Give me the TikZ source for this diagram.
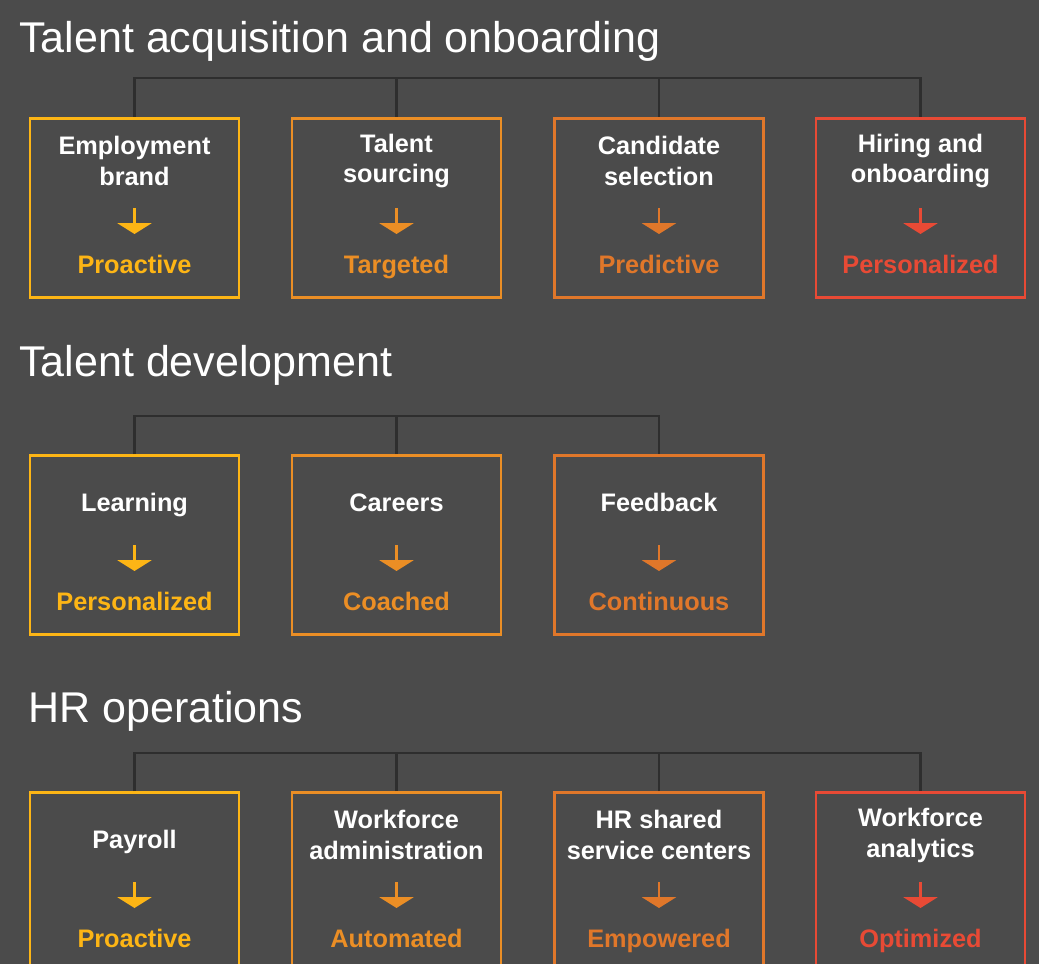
\documentclass[tikz,border=0pt]{standalone}
\usepackage{fontspec}
\setmainfont{Liberation Sans}
\usepackage{tikz}
\usetikzlibrary{calc}
\usetikzlibrary{arrows.meta}
\definecolor{bgray}{HTML}{4B4B4B}
\definecolor{lgray}{HTML}{2E2E2E}
\definecolor{pyellow}{HTML}{FDB515}
\definecolor{porange}{HTML}{EB8E25}
\definecolor{ptang}{HTML}{E0772A}
\definecolor{pred}{HTML}{E84A35}
\tikzstyle{every node}=[text=white,inner sep=0pt]
\tikzstyle{title}=[anchor=base west,font=\fontsize{30.6}{36}\selectfont]
\tikzstyle{card}=[draw,line width=2pt,minimum width=5.225cm,minimum height=4.475cm,anchor=north]
\tikzstyle{word}=[align=center,font=\bfseries\fontsize{18}{22}\selectfont]
\tikzstyle{oneline}=[font=\bfseries\fontsize{18}{22}\selectfont,text height=13pt,text depth=0pt]
\tikzstyle{single}=[oneline,yshift=-3pt]
\tikzstyle{tree}=[draw=lgray,line width=2pt]
\tikzstyle{downarr}=[draw=#1,line width=1.6pt,-{Triangle[width=0.85cm,length=0.27cm]}]
% card: [label style] name, x, top, colour, label, value
\newcommand{\hrcard}[7][word]{%
  \node [card,draw=#5] (#2) at (#3,#4) {};
  \node [#1] (#2l) at ($(#2.north)+(0,44)$) {#6};
  \coordinate (#2s) at ($(#2.north)+(0,91)$);
  \coordinate (#2e) at ($(#2.north)+(0,117)$);
  \draw [downarr=#5] (#2s) -- (#2e);
  \node [oneline,text=#5] (#2v) at ($(#2.north)+(0,147)$) {#7};
}

\begin{document}
\begin{tikzpicture}[line cap=butt,line join=miter,x=0.025cm,y=-0.025cm]
            \clip (0,0) rectangle (1039,964);
            \fill [bgray] (0,0) rectangle (1039,964);
            % acquisition
            \node [title] (t1) at (19,53) {Talent acquisition and onboarding};
            \hrcard{a1}{134.5}{117}{pyellow}{Employment\\brand}{Proactive}
            \hrcard{a2}{396.5}{117}{porange}{Talent\\sourcing}{Targeted}
            \hrcard{a3}{659}{117}{ptang}{Candidate\\selection}{Predictive}
            \hrcard{a4}{920.5}{117}{pred}{Hiring and\\onboarding}{Personalized}
            \coordinate (a0) at (0,78);
            \draw [tree] (a1.north) |- (a0 -| a4.north) -- (a4.north);
            \draw [tree] (a2.north) -- (a2.north |- a0);
            \draw [tree] (a3.north) -- (a3.north |- a0);
            % development
            \node [title] (t2) at (19,377) {Talent development};
            \hrcard[single]{d1}{134.5}{454}{pyellow}{Learning}{Personalized}
            \hrcard[single]{d2}{396.5}{454}{porange}{Careers}{Coached}
            \hrcard[single]{d3}{659}{454}{ptang}{Feedback}{Continuous}
            \coordinate (d0) at (0,416);
            \draw [tree] (d1.north) |- (d0 -| d3.north) -- (d3.north);
            \draw [tree] (d2.north) -- (d2.north |- d0);
            % operations
            \node [title] (t3) at (28,722) {HR operations};
            \hrcard[single]{o1}{134.5}{791}{pyellow}{Payroll}{Proactive}
            \hrcard{o2}{396.5}{791}{porange}{Workforce\\administration}{Automated}
            \hrcard{o3}{659}{791}{ptang}{HR shared\\service centers}{Empowered}
            \hrcard{o4}{920.5}{791}{pred}{Workforce\\analytics}{Optimized}
            \coordinate (o0) at (0,753);
            \draw [tree] (o1.north) |- (o0 -| o4.north) -- (o4.north);
            \draw [tree] (o2.north) -- (o2.north |- o0);
            \draw [tree] (o3.north) -- (o3.north |- o0);
\end{tikzpicture}
\end{document}
